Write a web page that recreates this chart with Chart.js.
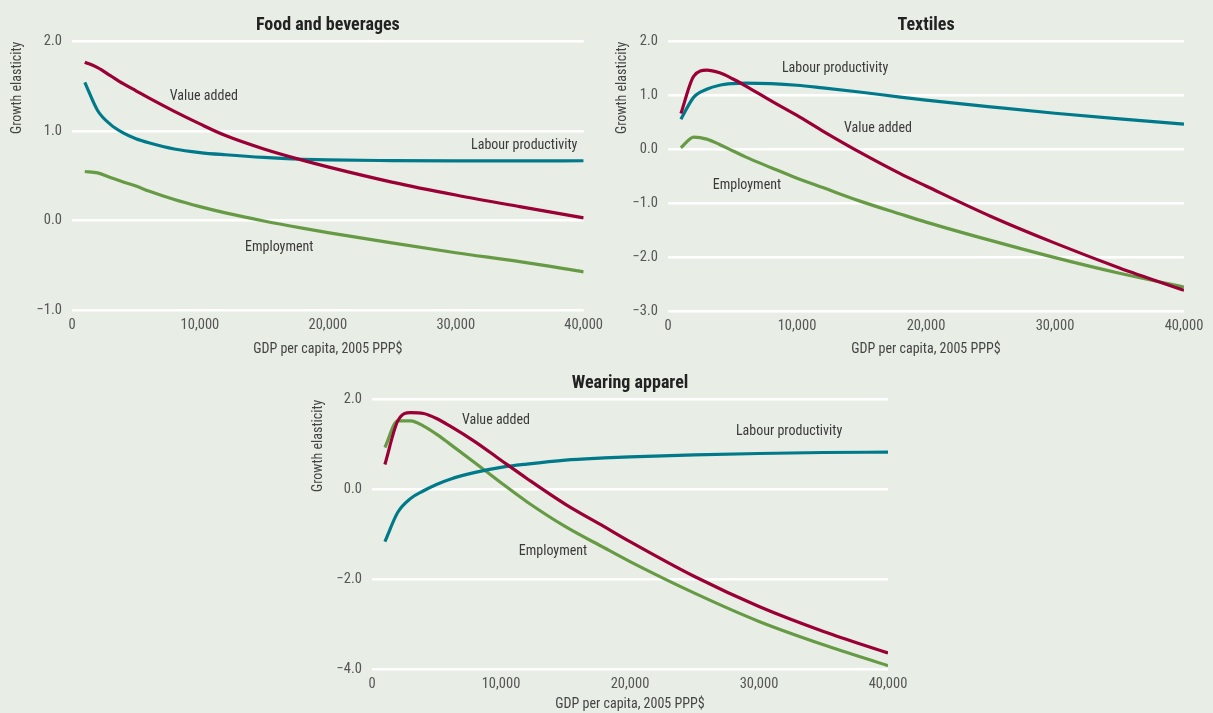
<!DOCTYPE html>
<html><head><meta charset="utf-8">
<script src="https://cdn.jsdelivr.net/npm/chart.js@4.4.1/dist/chart.umd.min.js"></script>
<style>
html,body{margin:0;padding:0;background:#e8eee5;width:1213px;height:713px;overflow:hidden;}
.p{position:absolute;}
</style></head><body>
<div class="p" style="left:0;top:0;width:610px;height:360px"><canvas id="c1"></canvas></div>
<div class="p" style="left:605px;top:0;width:608px;height:360px"><canvas id="c2"></canvas></div>
<div class="p" style="left:305px;top:358px;width:610px;height:355px"><canvas id="c3"></canvas></div>
<script>
// GDP per capita (2005 PPP$)
const gdpPerCapita = [1000,2000,3000,4000,5000,6000,8000,10000,12000,15000,18000,20000,25000,30000,35000,40000];

// Food and beverages
const foodValueAdded   = [1.77,1.71,1.62,1.53,1.45,1.37,1.22,1.08,0.95,0.80,0.675,0.60,0.43,0.285,0.155,0.03];
const foodLabourProd   = [1.545,1.23,1.075,0.98,0.915,0.87,0.80,0.76,0.735,0.705,0.685,0.677,0.67,0.667,0.667,0.668];
const foodEmployment   = [0.548,0.533,0.48,0.43,0.385,0.33,0.235,0.155,0.085,-0.005,-0.085,-0.135,-0.25,-0.36,-0.46,-0.574];

// Textiles
const textValueAdded   = [0.665,1.36,1.47,1.42,1.31,1.18,0.90,0.63,0.34,-0.07,-0.45,-0.68,-1.24,-1.74,-2.20,-2.617];
const textLabourProd   = [0.56,0.97,1.115,1.19,1.22,1.23,1.22,1.19,1.14,1.06,0.97,0.915,0.79,0.67,0.565,0.47];
const textEmployment   = [0.03,0.228,0.19,0.09,-0.025,-0.14,-0.34,-0.535,-0.71,-0.97,-1.20,-1.35,-1.69,-2.01,-2.30,-2.555];

// Wearing apparel
const appValueAdded    = [0.556,1.526,1.71,1.69,1.58,1.42,1.06,0.65,0.244,-0.333,-0.83,-1.163,-1.94,-2.607,-3.163,-3.644];
const appLabourProd    = [-1.163,-0.51,-0.2,-0.03,0.11,0.222,0.378,0.489,0.563,0.652,0.70,0.726,0.77,0.80,0.822,0.83];
const appEmployment    = [0.933,1.526,1.526,1.41,1.23,1.02,0.59,0.148,-0.274,-0.83,-1.30,-1.607,-2.31,-2.94,-3.46,-3.926];

const xTicks = [0,10000,20000,30000,40000];
const panelTitles = ['Food and beverages','Textiles','Wearing apparel'];
const seriesNames = ['Value added','Labour productivity','Employment'];

const COLORS = {va:'#9a0036', lp:'#007a8a', em:'#679a45'};
const FONT = "'Liberation Sans Narrow','Arial Narrow','Roboto Condensed',sans-serif";

const toPts = arr => arr.map((v,i)=>({x:gdpPerCapita[i], y:v}));
const fmtY = v => (v<0?'\u2212':'') + Math.abs(v).toFixed(1);
const fmtX = v => Number(v).toLocaleString('en-US');

const notesPlugin = {
  id:'notes',
  afterDatasetsDraw(chart, args, opts){
    const {ctx, scales:{x,y}} = chart;
    ctx.save();
    ctx.font = '14px ' + FONT;
    ctx.fillStyle = '#3a3a3a';
    ctx.textAlign = 'center';
    ctx.textBaseline = 'middle';
    (opts.items||[]).forEach(n=>{
      ctx.fillText(n.text, x.getPixelForValue(n.x), y.getPixelForValue(n.y));
    });
    ctx.restore();
  }
};

function makeChart(id, c){
  new Chart(document.getElementById(id), {
    type:'line',
    data:{datasets:[
      {label:seriesNames[0], data:toPts(c.va), borderColor:COLORS.va},
      {label:seriesNames[1], data:toPts(c.lp), borderColor:COLORS.lp},
      {label:seriesNames[2], data:toPts(c.em), borderColor:COLORS.em}
    ]},
    options:{
      responsive:true, maintainAspectRatio:false, animation:false,
      layout:{padding:{left:0,right:c.rightPad,top:0,bottom:0}},
      elements:{point:{radius:0}, line:{borderWidth:3.2, cubicInterpolationMode:'monotone', borderCapStyle:'butt'}},
      plugins:{
        legend:{display:false}, tooltip:{enabled:false},
        title:{display:true, text:c.title, fullSize:false, color:'#222',
          font:{family:FONT, size:18, weight:'bold', lineHeight:1.2}, padding:{top:15,bottom:5}},
        notes:{items:c.notes}
      },
      scales:{
        x:{type:'linear', min:0, max:40000,
          afterBuildTicks: s => { s.ticks = xTicks.map(v=>({value:v})); },
          afterFit: s => { s.height = c.xh; },
          grid:{display:false, drawTicks:false}, border:{display:false},
          ticks:{padding:7, color:'#555', font:{family:FONT, size:14.5}, callback:v=>fmtX(v), maxRotation:0},
          title:{display:true, text:'GDP per capita, 2005 PPP$', color:'#444',
            font:{family:FONT, size:14}, padding:{top:0,bottom:c.xTitlePad}}
        },
        y:{min:c.yMin, max:c.yMax,
          afterBuildTicks: s => { const t=[]; for(let v=c.yMin; v<=c.yMax+1e-9; v+=c.yStep) t.push({value:v}); s.ticks=t; },
          afterFit: s => { s.width = c.yw; },
          grid:{color:'#ffffff', lineWidth:2.5, drawTicks:false}, border:{display:false},
          ticks:{padding:10, color:'#555', font:{family:FONT, size:14.5}, callback:v=>fmtY(v)},
          title:{display:true, text:'Growth elasticity', align:'end', color:'#444',
            font:{family:FONT, size:14}, padding:{top:c.yTitlePad,bottom:0}}
        }
      }
    },
    plugins:[notesPlugin]
  });
}

makeChart('c1', {title:panelTitles[0], va:foodValueAdded, lp:foodLabourProd, em:foodEmployment,
  yMin:-1, yMax:2, yStep:1, yw:72, rightPad:22, yTitlePad:9, xh:50, xTitlePad:2,
  notes:[{text:'Value added',x:10310,y:1.39},{text:'Labour productivity',x:35350,y:0.836},{text:'Employment',x:16200,y:-0.30}]});

makeChart('c2', {title:panelTitles[1], va:textValueAdded, lp:textLabourProd, em:textEmployment,
  yMin:-3, yMax:2, yStep:1, yw:63, rightPad:29, yTitlePad:9, xh:49, xTitlePad:2,
  notes:[{text:'Labour productivity',x:12950,y:1.5},{text:'Value added',x:16280,y:0.39},{text:'Employment',x:6120,y:-0.667}]});

makeChart('c3', {title:panelTitles[2], va:appValueAdded, lp:appLabourProd, em:appEmployment,
  yMin:-4, yMax:2, yStep:2, yw:67, rightPad:27, yTitlePad:5, xh:44, xTitlePad:0,
  notes:[{text:'Value added',x:9610,y:1.53},{text:'Labour productivity',x:32330,y:1.29},{text:'Employment',x:14030,y:-1.38}]});
</script>
</body></html>
